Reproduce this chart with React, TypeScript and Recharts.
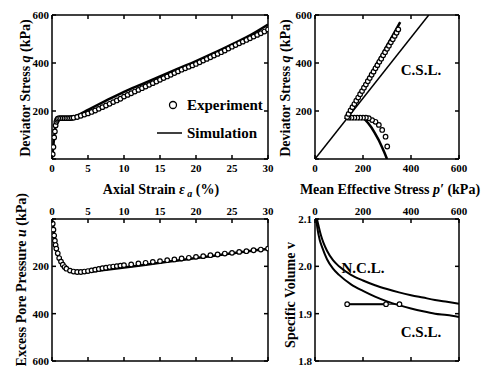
import React from 'react';
import { LineChart, Line, XAxis, YAxis, Legend } from 'recharts';

const FONT = '"Liberation Serif", "Times New Roman", serif';

// top left: deviator stress q vs axial strain
const strainTicks = [0, 5, 10, 15, 20, 25, 30];
const qTicks = [0, 200, 400, 600];
const simStrainQ = [0, 0.2, 0.4, 0.6, 0.8, 1.5, 2.5, 3.5, 5, 7.5, 10, 12.5, 15, 17.5, 20, 22.5, 25, 27.5, 30];
const simQ = [0, 60, 120, 160, 170, 172, 172, 182, 205, 243, 280, 312, 344, 376, 408, 442, 478, 515, 560];
const expStrainQ = [0.1, 0.2, 0.3, 0.4, 0.5, 0.6, 0.7, 0.8, 1, 1.25, 1.5, 1.75, 2, 2.25, 2.5, 2.75, 3,
  3.5, 4, 4.5, 5, 5.5, 6, 6.5, 7, 7.5, 8, 8.5, 9, 9.5, 10, 10.5, 11, 11.5, 12, 12.5, 13, 13.5, 14, 14.5, 15,
  15.5, 16, 16.5, 17, 17.5, 18, 18.5, 19, 19.5, 20, 20.5, 21, 21.5, 22, 22.5, 23, 23.5, 24, 24.5, 25,
  25.5, 26, 26.5, 27, 27.5, 28, 28.5, 29, 29.5, 30];
const expQ = [20, 50, 90, 115, 140, 155, 163, 168, 170, 170, 170, 170, 170, 170, 170, 171, 172,
  175, 180, 185, 190, 196, 202, 209, 216, 223, 230, 237, 244, 251, 260, 267, 274, 281, 288, 295, 302, 309, 316, 323, 330,
  337, 344, 351, 358, 365, 372, 378, 384, 390, 396, 403, 410, 417, 424, 431, 438, 445, 452, 460, 468,
  475, 482, 489, 496, 503, 510, 517, 524, 531, 540];

// top right: stress path q vs p'
const pTicks = [0, 200, 400, 600];
const cslP = [0, 474];
const cslQ = [0, 600];
const simPathP = [300, 290, 278, 265, 250, 236, 222, 210, 200, 130, 150, 175, 200, 225, 250, 275, 300, 325, 355];
const simPathQ = [0, 25, 52, 80, 107, 130, 149, 163, 172, 172, 208, 252, 296, 340, 384, 428, 472, 516, 570];
const expPathP = [301, 294, 280, 266, 252, 238, 224, 212, 200, 188, 176, 164, 152, 140, 134,
  140, 148, 156, 164, 172, 180, 188, 196, 204, 212, 220, 228, 236, 244, 252, 260, 268, 276, 284, 292, 300, 308, 316, 324, 332, 340, 347];
const expPathQ = [52, 93, 121, 142, 155, 162, 170, 172, 172, 172, 172, 172, 172, 172, 175,
  188, 202, 216, 229, 243, 256, 270, 283, 297, 310, 324, 337, 351, 364, 378, 391, 405, 418, 432, 445, 459, 472, 486, 499, 513, 526, 540];

// bottom left: excess pore pressure u vs axial strain
const uTicks = [0, 200, 400, 600];
const simStrainU = [0, 0.2, 0.4, 0.7, 1, 1.5, 2, 2.5, 3, 4, 5, 7.5, 10, 12.5, 15, 17.5, 20, 22.5, 25, 27.5, 30];
const simU = [0, 40, 85, 135, 165, 195, 210, 218, 222, 225, 223, 214, 205, 195, 185, 175, 165, 155, 145, 135, 127];
const expStrainU = [0.1, 0.2, 0.3, 0.4, 0.5, 0.6, 0.8, 1, 1.25, 1.5, 1.75, 2,
  2.5, 3, 3.5, 4, 4.5, 5, 5.5, 6, 6.5, 7, 7.5, 8, 8.5, 9, 9.5, 10,
  11, 12, 13, 14, 15, 16, 17, 18, 19, 20, 21, 22, 23, 24, 25, 26, 27, 28, 29, 30];
const expU = [20, 45, 70, 92, 110, 125, 145, 165, 180, 193, 203, 210,
  218, 222, 224, 224, 222, 220, 217, 214, 211, 208, 206, 203, 201, 199, 197, 195,
  192, 188, 185, 181, 178, 174, 171, 167, 164, 160, 157, 153, 150, 146, 143, 139, 136, 132, 129, 125];

// bottom right: specific volume v vs p'
const vTicks = [1.8, 1.9, 2.0, 2.1];
const nclP = [8, 15, 25, 35, 50, 75, 100, 150, 200, 250, 300, 350, 400, 450, 500, 550, 600];
const nclV = [2.1, 2.085, 2.065, 2.05, 2.033, 2.013, 2.0, 1.982, 1.97, 1.96, 1.952, 1.945, 1.939, 1.934, 1.929, 1.925, 1.921];
const cslVP = [5, 10, 20, 30, 50, 75, 100, 150, 200, 250, 300, 350, 400, 450, 500, 550, 600];
const cslV = [2.1, 2.08, 2.055, 2.04, 2.015, 1.995, 1.982, 1.962, 1.948, 1.936, 1.926, 1.918, 1.911, 1.905, 1.9, 1.897, 1.893];
const undrainedSimP = [300, 130];
const undrainedSimV = [1.92, 1.92];
const undrainedExpP = [134, 296, 352];
const undrainedExpV = [1.92, 1.92, 1.92];

const pts = (xs: number[], ys: number[]) => xs.map((x, i) => ({ x, y: ys[i] }));

type Side = 'left' | 'right' | 'top' | 'bottom';
const textStyle = { fontFamily: FONT, fontSize: 11, fontWeight: 'bold' as const, fill: '#000' };

function axisTick(side: Side, showLabel: boolean, hide: number[] = [], fmt: (v: number) => string = String) {
  return (props: any) => {
    const { x, y, payload } = props;
    const v = payload.value as number;
    const len = 4;
    const dx = side === 'left' ? len : side === 'right' ? -len : 0;
    const dy = side === 'top' ? len : side === 'bottom' ? -len : 0;
    let label = null;
    if (showLabel && !hide.includes(v)) {
      const t = fmt(v);
      if (side === 'left') label = <text x={x - 3} y={y + 4} textAnchor="end" style={textStyle}>{t}</text>;
      else if (side === 'bottom') label = <text x={x} y={y + 13} textAnchor="middle" style={textStyle}>{t}</text>;
      else if (side === 'top') label = <text x={x} y={y - 4} textAnchor="middle" style={textStyle}>{t}</text>;
    }
    return (
      <g>
        <line x1={x} y1={y} x2={x + dx} y2={y + dy} stroke="#000" strokeWidth={1.5} />
        {label}
      </g>
    );
  };
}

interface FrameOpts {
  xDomain: [number, number];
  yDomain: [number, number];
  xTicks: number[];
  yTicks: number[];
  xSide: 'top' | 'bottom';
  yWidth: number;
  yReversed?: boolean;
  yFmt?: (v: number) => string;
  hideY?: number[];
}

const frameAxes = (o: FrameOpts) => {
  const axisLine = { stroke: '#000', strokeWidth: 1.5 };
  const other: 'top' | 'bottom' = o.xSide === 'bottom' ? 'top' : 'bottom';
  return [
    <XAxis key="xa" xAxisId="a" type="number" dataKey="x" orientation={o.xSide} domain={o.xDomain} ticks={o.xTicks}
      allowDataOverflow interval={0} height={20} tickSize={0} tickMargin={0} tickLine={false} axisLine={axisLine}
      tick={axisTick(o.xSide, true)} />,
    <XAxis key="xb" xAxisId="b" type="number" dataKey="x" orientation={other} domain={o.xDomain} ticks={o.xTicks}
      allowDataOverflow interval={0} height={1} tickSize={0} tickMargin={0} tickLine={false} axisLine={axisLine}
      tick={axisTick(other, false)} />,
    <YAxis key="ya" yAxisId="a" type="number" orientation="left" domain={o.yDomain} ticks={o.yTicks} reversed={o.yReversed}
      allowDataOverflow interval={0} width={o.yWidth} tickSize={0} tickMargin={0} tickLine={false} axisLine={axisLine}
      tick={axisTick('left', true, o.hideY || [], o.yFmt)} />,
    <YAxis key="yb" yAxisId="b" type="number" orientation="right" domain={o.yDomain} ticks={o.yTicks} reversed={o.yReversed}
      allowDataOverflow interval={0} width={1} tickSize={0} tickMargin={0} tickLine={false} axisLine={axisLine}
      tick={axisTick('right', false)} />,
  ];
};

const circleDot = { r: 2.3, fill: '#fff', stroke: '#000', strokeWidth: 1.2 };

const LegendBox = () => (
  <svg width={120} height={50}>
    <circle cx={23} cy={12} r={3.5} fill="#fff" stroke="#000" strokeWidth={1.3} />
    <text x={37} y={17} style={{ fontFamily: FONT, fontSize: 15, fontWeight: 'bold', fill: '#000' }}>Experiment</text>
    <line x1={7} y1={40} x2={32} y2={40} stroke="#000" strokeWidth={1.5} />
    <text x={37} y={45} style={{ fontFamily: FONT, fontSize: 15, fontWeight: 'bold', fill: '#000' }}>Simulation</text>
  </svg>
);

const titleStyle = { fontFamily: FONT, fontSize: 14, fontWeight: 'bold' as const, fill: '#000' };
const noteStyle = { fontFamily: FONT, fontSize: 15, fontWeight: 'bold' as const, fill: '#000' };

export default function App() {
  return (
    <div style={{ position: 'absolute', left: 0, top: 0, width: 485, height: 366, overflow: 'hidden', background: '#fff' }}>
      <div style={{ position: 'absolute', left: 0, top: 0 }}>
        <LineChart width={285} height={190} margin={{ top: 14, left: 12, right: 16, bottom: 11 }}>
          {frameAxes({ xDomain: [0, 30], yDomain: [0, 600], xTicks: strainTicks, yTicks: qTicks, xSide: 'bottom', yWidth: 40, hideY: [0] })}
          <Line xAxisId="a" yAxisId="a" data={pts(expStrainQ, expQ)} dataKey="y" stroke="none" dot={circleDot} isAnimationActive={false} />
          <Line xAxisId="a" yAxisId="a" data={pts(simStrainQ, simQ)} dataKey="y" type="monotone" stroke="#000" strokeWidth={2.5} dot={false} isAnimationActive={false} />
          <Legend layout="vertical" align="center" verticalAlign="middle" content={() => <LegendBox />}
            wrapperStyle={{ position: 'absolute', left: 150, top: 93, width: 120, height: 50 }} />
        </LineChart>
      </div>
      <div style={{ position: 'absolute', left: 290, top: 0 }}>
        <LineChart width={195} height={190} margin={{ top: 14, left: 3, right: 25, bottom: 11 }}>
          {frameAxes({ xDomain: [0, 600], yDomain: [0, 600], xTicks: pTicks, yTicks: qTicks, xSide: 'bottom', yWidth: 22, hideY: [0] })}
          <Line xAxisId="a" yAxisId="a" data={pts(cslP, cslQ)} dataKey="y" stroke="#000" strokeWidth={1.5} dot={false} isAnimationActive={false} />
          <Line xAxisId="a" yAxisId="a" data={pts(expPathP, expPathQ)} dataKey="y" stroke="none" dot={circleDot} isAnimationActive={false} />
          <Line xAxisId="a" yAxisId="a" data={pts(simPathP, simPathQ)} dataKey="y" stroke="#000" strokeWidth={2.5} dot={false} isAnimationActive={false} />
        </LineChart>
      </div>
      <div style={{ position: 'absolute', left: 0, top: 190 }}>
        <LineChart width={285} height={176} margin={{ top: 9, left: 12, right: 16, bottom: 4 }}>
          {frameAxes({ xDomain: [0, 30], yDomain: [0, 600], xTicks: strainTicks, yTicks: uTicks, xSide: 'top', yWidth: 40, yReversed: true, hideY: [0] })}
          <Line xAxisId="a" yAxisId="a" data={pts(expStrainU, expU)} dataKey="y" stroke="none" dot={circleDot} isAnimationActive={false} />
          <Line xAxisId="a" yAxisId="a" data={pts(simStrainU, simU)} dataKey="y" type="monotone" stroke="#000" strokeWidth={2.5} dot={false} isAnimationActive={false} />
        </LineChart>
      </div>
      <div style={{ position: 'absolute', left: 290, top: 190 }}>
        <LineChart width={195} height={176} margin={{ top: 9, left: 3, right: 25, bottom: 4 }}>
          {frameAxes({ xDomain: [0, 600], yDomain: [1.8, 2.1], xTicks: pTicks, yTicks: vTicks, xSide: 'top', yWidth: 22, yFmt: (v) => v.toFixed(1) })}
          <Line xAxisId="a" yAxisId="a" data={pts(nclP, nclV)} dataKey="y" type="monotone" stroke="#000" strokeWidth={2} dot={false} isAnimationActive={false} />
          <Line xAxisId="a" yAxisId="a" data={pts(cslVP, cslV)} dataKey="y" type="monotone" stroke="#000" strokeWidth={2} dot={false} isAnimationActive={false} />
          <Line xAxisId="a" yAxisId="a" data={pts(undrainedSimP, undrainedSimV)} dataKey="y" stroke="#000" strokeWidth={2} dot={false} isAnimationActive={false} />
          <Line xAxisId="a" yAxisId="a" data={pts(undrainedExpP, undrainedExpV)} dataKey="y" stroke="#000" strokeWidth={1} dot={circleDot} isAnimationActive={false} />
        </LineChart>
      </div>
      <svg width={485} height={366} style={{ position: 'absolute', left: 0, top: 0, pointerEvents: 'none' }}>
        <text transform="translate(25,88) rotate(-90)" textAnchor="middle" dominantBaseline="central" style={titleStyle}>
          Deviator Stress <tspan fontStyle="italic">q</tspan> (kPa)
        </text>
        <text transform="translate(285,88) rotate(-90)" textAnchor="middle" dominantBaseline="central" style={titleStyle}>
          Deviator Stress <tspan fontStyle="italic">q</tspan> (kPa)
        </text>
        <text transform="translate(21,193) rotate(-90)" textAnchor="end" dominantBaseline="central" style={titleStyle}>
          Excess Pore Pressure <tspan fontStyle="italic">u</tspan> (kPa)
        </text>
        <text transform="translate(290,295) rotate(-90)" textAnchor="middle" dominantBaseline="central" style={titleStyle}>
          Specific Volume v
        </text>
        <text x={161} y={194} textAnchor="middle" style={titleStyle}>
          Axial Strain  <tspan fontStyle="italic">ε</tspan>
          <tspan fontStyle="italic" fontSize={10} dy={3}> a</tspan>
          <tspan dy={-3}> (%)</tspan>
        </text>
        <text x={390} y={194} textAnchor="middle" style={titleStyle}>
          Mean Effective Stress <tspan fontStyle="italic">p′</tspan> (kPa)
        </text>
        <text x={421} y={75} textAnchor="middle" style={noteStyle}>C.S.L.</text>
        <text x={363} y={273} textAnchor="middle" style={noteStyle}>N.C.L.</text>
        <text x={421} y={337} textAnchor="middle" style={noteStyle}>C.S.L.</text>
      </svg>
    </div>
  );
}
